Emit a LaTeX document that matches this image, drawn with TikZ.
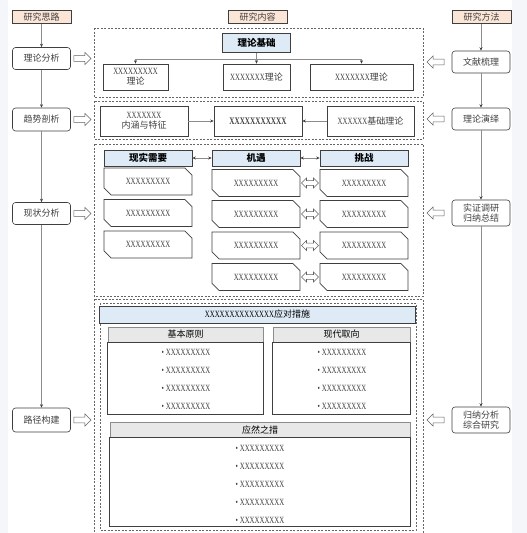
\documentclass[tikz,border=0pt]{standalone}
\usepackage{fontspec}
\usepackage{graphicx}
\setmainfont{Liberation Serif}
\newfontfamily\cjk{Noto Sans CJK SC}
\usetikzlibrary{arrows.meta,shapes.arrows,shapes.misc}
\definecolor{peach}{HTML}{FBE5D6}
\definecolor{lblue}{HTML}{DEEBF7}
\definecolor{lgray}{HTML}{E8E8E8}
\definecolor{txt}{HTML}{404040}
\definecolor{edge}{HTML}{3F3F3F}
\definecolor{conn}{HTML}{8C8C8C}
\definecolor{strip}{HTML}{F4F6F9}
\newcommand\zhc[1]{{\cjk\fontsize{9}{11}\selectfont #1}}
\newcommand\zhb[1]{{\cjk\bfseries\fontsize{9.5}{11}\selectfont #1}}
\newcommand\xx[1]{\scalebox{0.72}[1]{\fontsize{9.5}{11}\selectfont #1}}
\tikzset{
  tag/.style={draw=edge, fill=peach, minimum width=59pt, minimum height=13pt, inner sep=0pt, text=txt, line width=0.6pt},
  sidebox/.style={draw=edge, fill=white, rounded corners=3pt, minimum width=58pt, inner sep=0pt, align=center, text=txt, line width=0.6pt},
  plainbox/.style={draw=edge, fill=white, inner sep=0pt, align=center, text=txt, line width=0.6pt},
  bluehead/.style={draw=edge, fill=lblue, inner sep=0pt, align=center, text=black, line width=0.6pt},
  grayhead/.style={draw=conn, fill=lgray, inner sep=0pt, align=center, text=black, line width=0.6pt},
  panel/.style={draw=edge, line width=0.9pt},
  card/.style={chamfered rectangle, chamfered rectangle corners={north east,south west}, chamfered rectangle xsep=4pt, chamfered rectangle ysep=4pt, draw=edge, fill=white, minimum width=88pt, minimum height=27pt, inner sep=0pt, text=txt, line width=0.7pt},
  conn/.style={draw=conn, line width=0.6pt, -{Stealth[length=3.5pt,width=3pt,color=edge]}},
  biconn/.style={draw=conn, line width=0.6pt, {Stealth[length=3.5pt,width=3pt,color=edge]}-{Stealth[length=3.5pt,width=3pt,color=edge]}},
  harrow/.style={single arrow, draw=conn!70!black, fill=white, minimum height=17pt, minimum width=12pt, single arrow head extend=3pt, inner sep=2.5pt, line width=0.6pt},
  darrow/.style={double arrow, draw=conn!70!black, fill=white, minimum height=17pt, minimum width=10pt, double arrow head extend=2.5pt, inner sep=2pt, line width=0.6pt},
  dbox/.style={draw=edge!80, dashed, dash pattern=on 2pt off 1.5pt, line width=0.6pt},
  item/.style={inner sep=0pt, text=txt}
}
\begin{document}
\begin{tikzpicture}[x=1pt,y=-1pt]
\useasboundingbox (0,0) rectangle (527,533);
\fill[white] (0,0) rectangle (527,533);
\fill[strip] (512,0) rectangle (527,533);
\fill[strip] (0,0) rectangle (8,533);

% dashed frames
\draw[dbox] (94,28) rectangle (423,97);
\draw[dbox] (94,101) rectangle (423,139);
\draw[dbox] (94,144) rectangle (423,296);
\draw[dbox] (94,299) rectangle (423,540);
\draw[dbox] (100,303) rectangle (416,530);

% column headers
\node[tag] (zs) at (41.5,17) {\zhc{研究思路}};
\node[tag] (nr) at (257.5,17) {\zhc{研究内容}};
\node[tag] (ff) at (481.5,17) {\zhc{研究方法}};

% left column
\node[sidebox, minimum height=22pt] (lA) at (41.5,58.5) {\zhc{理论分析}};
\node[sidebox, minimum height=23pt] (lB) at (41.5,119.5) {\zhc{趋势剖析}};
\node[sidebox, minimum height=22pt] (lC) at (41.5,213.5) {\zhc{现状分析}};
\node[sidebox, minimum height=24pt] (lD) at (41.5,420) {\zhc{路径构建}};
\draw[conn] (zs) -- (lA);
\draw[conn] (lA) -- (lB);
\draw[conn] (lB) -- (lC);
\draw[conn] (lC) -- (lD);

% right column
\node[sidebox, minimum height=22pt] (rA) at (481,62) {\zhc{文献梳理}};
\node[sidebox, minimum height=22pt] (rB) at (481,119) {\zhc{理论演绎}};
\node[sidebox, minimum height=26pt] (rC) at (481,213) {\zhc{实证调研}\\[-2pt]\zhc{归纳总结}};
\node[sidebox, minimum height=26pt] (rD) at (481,420) {\zhc{归纳分析}\\[-2pt]\zhc{综合研究}};
\draw[conn] (ff.south -| rA) -- (rA);
\draw[conn] (rA) -- (rB);
\draw[conn] (rB) -- (rC);
\draw[conn] (rC) -- (rD);

% hollow arrows
\node[harrow] (haL1) at (81,58.5) {};
\node[harrow] (haL2) at (81,119.5) {};
\node[harrow] (haL3) at (81,213.5) {};
\node[harrow] (haL4) at (81,420) {};
\node[harrow, shape border rotate=180] (haR1) at (437,62) {};
\node[harrow, shape border rotate=180] (haR2) at (437,119) {};
\node[harrow, shape border rotate=180] (haR3) at (437,213) {};
\node[harrow, shape border rotate=180] (haR4) at (437,420) {};

% box 1
\node[bluehead, minimum width=68pt, minimum height=19pt] (jc) at (256.5,43) {\zhb{理论基础}};
\node[plainbox, minimum width=65pt, minimum height=26pt] (b1) at (135.5,77) {\xx{XXXXXXXXX}\\[-2pt]\zhc{理论}};
\node[plainbox, minimum width=67pt, minimum height=26pt] (b2) at (256.5,77) {\xx{XXXXXXX}\zhc{理论}};
\node[plainbox, minimum width=103pt, minimum height=26pt] (b3) at (361.5,77) {\xx{XXXXXXX}\zhc{理论}};
\coordinate (hy) at (256.5,59);
\draw[conn] (jc) -- (b2);
\draw[conn] (hy) -| (b1.north);
\draw[conn] (hy) -| (b3.north);

% box 2
\node[plainbox, minimum width=88pt, minimum height=30pt] (n1) at (144,121) {\xx{XXXXXXX}\\[-2pt]\zhc{内涵与特征}};
\node[plainbox, minimum width=88pt, minimum height=30pt] (n2) at (258,121) {\scalebox{0.72}[1]{\bfseries\fontsize{10}{11}\selectfont XXXXXXXXXXX}};
\node[plainbox, minimum width=87pt, minimum height=30pt] (n3) at (370.5,121) {\xx{XXXXXX}\zhc{基础理论}};
\draw[conn] (n1) -- (n2);
\draw[conn] (n3) -- (n2);

% box 3
\node[bluehead, minimum width=88pt, minimum height=16pt] (h1) at (148,158) {\zhb{现实需要}};
\node[bluehead, minimum width=88pt, minimum height=16pt] (h2) at (256,158) {\zhb{机遇}};
\node[bluehead, minimum width=88pt, minimum height=16pt] (h3) at (364,158) {\zhb{挑战}};
\draw[biconn] (h1) -- (h2);
\draw[biconn] (h2) -- (h3);

\node[card] (c11) at (148,181.5) {\xx{XXXXXXXXX}};
\node[card] (c12) at (148,213) {\xx{XXXXXXXXX}};
\node[card] (c13) at (148,244.5) {\xx{XXXXXXXXX}};

\node[card] (c21) at (256,183) {\xx{XXXXXXXXX}};
\node[card] (c22) at (256,214) {\xx{XXXXXXXXX}};
\node[card] (c23) at (256,245.5) {\xx{XXXXXXXXX}};
\node[card] (c24) at (256,277) {\xx{XXXXXXXXX}};

\node[card] (c31) at (364,183) {\xx{XXXXXXXXX}};
\node[card] (c32) at (364,214) {\xx{XXXXXXXXX}};
\node[card] (c33) at (364,245.5) {\xx{XXXXXXXXX}};
\node[card] (c34) at (364,277) {\xx{XXXXXXXXX}};

\node[darrow] (da1) at (310,183) {};
\node[darrow] (da2) at (310,214) {};
\node[darrow] (da3) at (310,245.5) {};
\node[darrow] (da4) at (310,277) {};

% box 4
\node[bluehead, minimum width=316pt, minimum height=17pt] (hd) at (257.5,314.5) {\xx{XXXXXXXXXXXXXX}\zhc{应对措施}};

\node[grayhead, minimum width=155pt, minimum height=15pt] (pl) at (185.5,334.5) {\zhc{基本原则}};
\draw[panel] (pl.south west) rectangle (263,414);
\node[item] (pl1) at (186,352) {\xx{• XXXXXXXXX}};
\node[item] (pl2) at (186,370) {\xx{• XXXXXXXXX}};
\node[item] (pl3) at (186,388) {\xx{• XXXXXXXXX}};
\node[item] (pl4) at (186,406) {\xx{• XXXXXXXXX}};

\node[grayhead, minimum width=137pt, minimum height=15pt] (pr) at (341.5,334.5) {\zhc{现代取向}};
\draw[panel] (pr.south west) rectangle (410,414);
\node[item] (pr1) at (342,352) {\xx{• XXXXXXXXX}};
\node[item] (pr2) at (342,370) {\xx{• XXXXXXXXX}};
\node[item] (pr3) at (342,388) {\xx{• XXXXXXXXX}};
\node[item] (pr4) at (342,406) {\xx{• XXXXXXXXX}};

\node[grayhead, minimum width=300pt, minimum height=15pt] (pb) at (260,430) {\zhc{应然之措}};
\draw[panel] (pb.south west) rectangle (410,526);
\node[item] (pb1) at (260,448) {\xx{• XXXXXXXXX}};
\node[item] (pb2) at (260,466) {\xx{• XXXXXXXXX}};
\node[item] (pb3) at (260,484) {\xx{• XXXXXXXXX}};
\node[item] (pb4) at (260,502) {\xx{• XXXXXXXXX}};
\node[item] (pb5) at (260,520) {\xx{• XXXXXXXXX}};
\end{tikzpicture}
\end{document}
